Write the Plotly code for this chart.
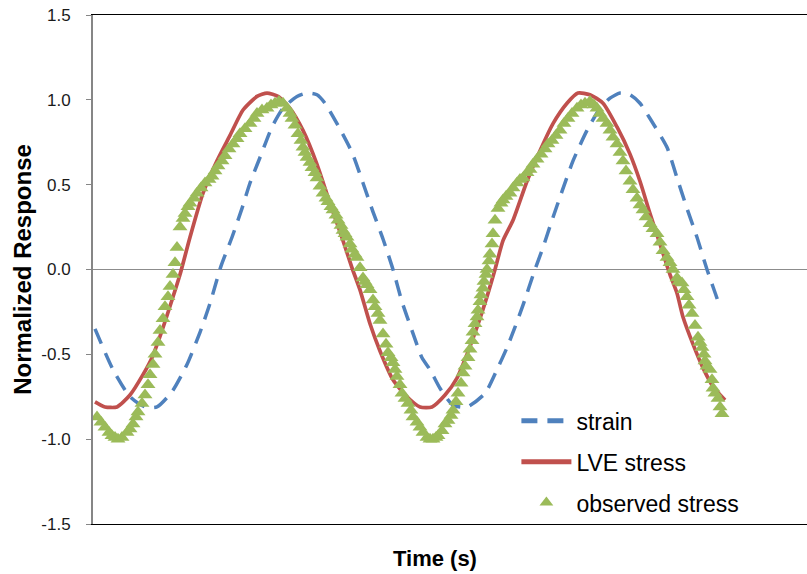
import plotly.graph_objects as go

# ---- data (time in s, normalized response) ----
strain_t = [0.002, 0.020, 0.037, 0.052, 0.064, 0.079, 0.094, 0.107, 0.117, 0.128,
            0.139, 0.149, 0.157, 0.167, 0.179, 0.190, 0.204, 0.214, 0.224, 0.232,
            0.244, 0.259, 0.270, 0.280, 0.290, 0.300, 0.309, 0.319, 0.329, 0.337,
            0.347, 0.360, 0.374, 0.392, 0.404, 0.414, 0.422, 0.430, 0.442, 0.450,
            0.459, 0.469, 0.480, 0.494, 0.507, 0.517, 0.527, 0.537, 0.547, 0.557,
            0.574, 0.584, 0.594, 0.604, 0.614, 0.624, 0.626]
strain_v = [-0.35, -0.59, -0.75, -0.81, -0.81, -0.72, -0.56, -0.37, -0.20, 0.02,
            0.19, 0.36, 0.51, 0.66, 0.84, 0.95, 1.02, 1.04, 1.03, 0.98,
            0.86, 0.69, 0.51, 0.34, 0.18, 0.00, -0.19, -0.36, -0.52, -0.59,
            -0.70, -0.80, -0.81, -0.73, -0.59, -0.46, -0.34, -0.21, 0.00, 0.13,
            0.29, 0.46, 0.64, 0.82, 0.95, 1.01, 1.04, 1.03, 0.98, 0.89,
            0.72, 0.54, 0.36, 0.19, 0.00, -0.17, -0.21]

lve_t = [0.002, 0.012, 0.024, 0.037, 0.050, 0.059, 0.069, 0.079, 0.087, 0.097,
         0.110, 0.124, 0.137, 0.150, 0.164, 0.174, 0.185, 0.197, 0.210, 0.224,
         0.237, 0.250, 0.259, 0.267, 0.277, 0.287, 0.300, 0.314, 0.327, 0.339,
         0.352, 0.364, 0.374, 0.384, 0.394, 0.402, 0.410, 0.420, 0.434, 0.447,
         0.460, 0.474, 0.485, 0.497, 0.510, 0.524, 0.537, 0.547, 0.557, 0.567,
         0.577, 0.584, 0.590, 0.600, 0.610, 0.620, 0.632]
lve_v = [-0.78, -0.81, -0.81, -0.74, -0.62, -0.52, -0.36, -0.18, -0.03, 0.19,
         0.45, 0.64, 0.79, 0.94, 1.02, 1.04, 1.02, 0.95, 0.82, 0.62,
         0.39, 0.17, 0.01, -0.12, -0.32, -0.48, -0.65, -0.75, -0.81, -0.81,
         -0.74, -0.64, -0.50, -0.34, -0.16, 0.00, 0.17, 0.29, 0.52, 0.70,
         0.86, 0.98, 1.04, 1.03, 0.98, 0.84, 0.68, 0.52, 0.33, 0.15,
         -0.03, -0.14, -0.28, -0.44, -0.58, -0.69, -0.77]

# observed stress samples: (time s, normalized response)
observed = [
    (0.004, -0.87), (0.008, -0.90), (0.012, -0.93), (0.016, -0.96), (0.019, -0.98),
    (0.022, -0.99), (0.025, -1.00), (0.029, -0.99), (0.034, -0.96), (0.037, -0.94),
    (0.040, -0.91), (0.043, -0.87), (0.045, -0.84), (0.049, -0.79), (0.052, -0.74),
    (0.055, -0.68), (0.057, -0.62), (0.060, -0.56), (0.062, -0.50), (0.065, -0.43),
    (0.067, -0.36), (0.070, -0.29), (0.072, -0.22), (0.075, -0.16), (0.077, -0.10),
    (0.080, -0.03), (0.082, 0.04), (0.084, 0.13), (0.087, 0.25), (0.090, 0.30),
    (0.092, 0.33), (0.095, 0.37), (0.097, 0.39), (0.101, 0.42), (0.104, 0.45),
    (0.108, 0.48), (0.112, 0.51), (0.116, 0.53), (0.119, 0.55), (0.122, 0.58),
    (0.125, 0.61), (0.129, 0.64), (0.132, 0.67), (0.136, 0.71), (0.140, 0.74),
    (0.144, 0.77), (0.147, 0.80), (0.152, 0.83), (0.157, 0.86), (0.161, 0.89),
    (0.164, 0.92), (0.169, 0.94), (0.174, 0.95), (0.178, 0.97), (0.182, 0.98),
    (0.186, 0.99), (0.190, 0.98), (0.194, 0.95), (0.197, 0.92), (0.199, 0.89),
    (0.202, 0.85), (0.205, 0.80), (0.208, 0.76), (0.210, 0.72), (0.212, 0.69),
    (0.214, 0.66), (0.217, 0.63), (0.219, 0.60), (0.222, 0.57), (0.224, 0.54),
    (0.227, 0.49), (0.230, 0.45), (0.233, 0.42), (0.235, 0.40), (0.238, 0.37),
    (0.240, 0.35), (0.243, 0.32), (0.245, 0.29), (0.248, 0.26), (0.250, 0.23),
    (0.252, 0.21), (0.254, 0.19), (0.257, 0.15), (0.259, 0.12), (0.262, 0.09),
    (0.264, 0.07), (0.267, 0.01), (0.270, -0.05), (0.272, -0.07), (0.274, -0.09),
    (0.277, -0.12), (0.280, -0.18), (0.282, -0.22), (0.285, -0.26), (0.287, -0.30),
    (0.290, -0.38), (0.293, -0.44), (0.295, -0.49), (0.298, -0.52), (0.300, -0.55),
    (0.302, -0.59), (0.304, -0.63), (0.307, -0.68), (0.309, -0.73), (0.312, -0.76),
    (0.315, -0.79), (0.318, -0.83), (0.320, -0.87), (0.324, -0.90), (0.327, -0.93),
    (0.330, -0.96), (0.334, -0.99), (0.337, -1.00), (0.340, -1.00), (0.343, -0.99),
    (0.345, -0.98), (0.349, -0.95), (0.352, -0.91), (0.355, -0.89), (0.358, -0.86),
    (0.360, -0.83), (0.363, -0.78), (0.365, -0.73), (0.368, -0.67), (0.370, -0.61),
    (0.372, -0.57), (0.375, -0.52), (0.377, -0.47), (0.379, -0.42), (0.380, -0.37),
    (0.382, -0.32), (0.384, -0.28), (0.385, -0.24), (0.387, -0.19), (0.388, -0.15),
    (0.390, -0.11), (0.391, -0.07), (0.393, -0.03), (0.394, 0.00), (0.396, 0.05),
    (0.397, 0.09), (0.399, 0.15), (0.400, 0.21), (0.402, 0.29), (0.405, 0.36),
    (0.408, 0.39), (0.410, 0.41), (0.413, 0.43), (0.417, 0.45), (0.420, 0.48),
    (0.424, 0.51), (0.427, 0.53), (0.430, 0.54), (0.434, 0.57), (0.437, 0.59),
    (0.440, 0.62), (0.444, 0.65), (0.448, 0.68), (0.452, 0.71), (0.455, 0.74),
    (0.459, 0.76), (0.463, 0.79), (0.467, 0.82), (0.471, 0.86), (0.475, 0.89),
    (0.479, 0.92), (0.484, 0.95), (0.488, 0.97), (0.492, 0.98), (0.497, 0.99),
    (0.501, 0.97), (0.504, 0.95), (0.507, 0.92), (0.510, 0.89), (0.514, 0.86),
    (0.517, 0.82), (0.520, 0.78), (0.524, 0.74), (0.527, 0.69), (0.530, 0.64),
    (0.533, 0.58), (0.537, 0.52), (0.540, 0.47), (0.544, 0.42), (0.547, 0.38),
    (0.550, 0.35), (0.553, 0.31), (0.557, 0.27), (0.560, 0.24), (0.564, 0.21),
    (0.567, 0.16), (0.570, 0.11), (0.574, 0.07), (0.577, 0.04), (0.580, 0.00),
    (0.584, -0.05), (0.586, -0.07), (0.589, -0.08), (0.591, -0.12), (0.594, -0.16),
    (0.596, -0.21), (0.599, -0.26), (0.602, -0.33), (0.605, -0.40), (0.607, -0.43),
    (0.609, -0.46), (0.611, -0.50), (0.612, -0.54), (0.614, -0.57), (0.617, -0.59),
    (0.619, -0.65), (0.620, -0.70), (0.622, -0.73), (0.625, -0.76), (0.627, -0.81),
    (0.629, -0.85),
]
obs_t = [p[0] for p in observed]
obs_v = [p[1] for p in observed]

y_tick_vals = [-1.5, -1.0, -0.5, 0.0, 0.5, 1.0, 1.5]
y_tick_text = ["-1.5", "-1.0", "-0.5", "0.0", "0.5", "1.0", "1.5"]

FONT = "Liberation Sans, Arial, sans-serif"

fig = go.Figure()
fig.add_trace(go.Scatter(x=strain_t, y=strain_v, mode="lines", name="strain",
                         legendgroup="a",
                         line=dict(color="#4F81BD", width=3.5, dash="16px,10px",
                                   shape="spline", smoothing=0.6)))
fig.add_trace(go.Scatter(x=lve_t, y=lve_v, mode="lines", name="LVE stress",
                         legendgroup="b",
                         line=dict(color="#C0504D", width=3.7,
                                   shape="spline", smoothing=0.6)))
fig.add_trace(go.Scatter(x=obs_t, y=obs_v, mode="markers", name="observed stress",
                         legendgroup="c",
                         marker=dict(symbol="triangle-up", size=13, color="#9BBB59",
                                     line=dict(width=0))))

fig.update_layout(
    width=807, height=574,
    margin=dict(l=93, r=0, t=15, b=50),
    paper_bgcolor="white", plot_bgcolor="white",
    font=dict(family=FONT, color="black"),
    legend=dict(x=0.593, y=0.245, xanchor="left", yanchor="top",
                bgcolor="rgba(0,0,0,0)", font=dict(size=23, family=FONT),
                tracegroupgap=8, traceorder="grouped", itemwidth=50,
                itemsizing="constant"),
    annotations=[dict(text="Time (s)", xref="paper", yref="paper",
                      x=0.479, y=0, yshift=-34, xanchor="center", yanchor="middle",
                      showarrow=False,
                      font=dict(size=22, family=FONT, weight="bold", color="black"))],
)
fig.update_xaxes(range=[0, 0.714], showticklabels=False, ticks="", showgrid=False,
                 zeroline=False, showline=True, linecolor="black", linewidth=1.2,
                 mirror=True)
fig.update_yaxes(range=[-1.5, 1.5], tickvals=y_tick_vals, ticktext=y_tick_text,
                 ticks="outside", ticklen=5, tickcolor="#868686", tickwidth=1,
                 ticklabelstandoff=12,
                 tickfont=dict(size=17, family=FONT, color="#1a1a1a"),
                 showgrid=False, zeroline=True, zerolinecolor="#8c8c8c",
                 zerolinewidth=1, showline=True, linecolor="#868686", linewidth=2,
                 title=dict(text="Normalized Response", standoff=3,
                            font=dict(size=24, family=FONT, weight="bold",
                                      color="black")))

fig.write_html("out.html")
